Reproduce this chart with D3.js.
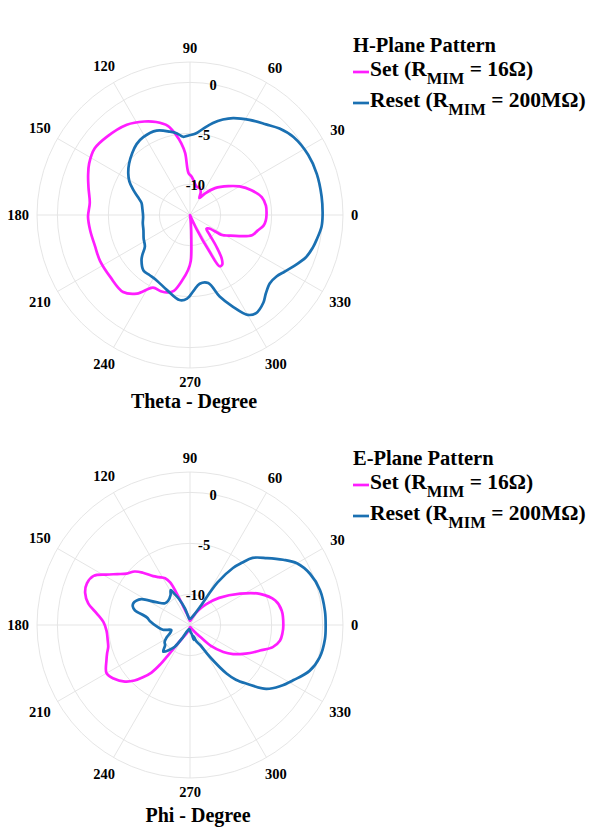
<!DOCTYPE html>
<html>
<head>
<meta charset="utf-8">
<script src="https://cdn.jsdelivr.net/npm/d3@7"></script>
<style>
  body { margin: 0; background: #fff; }
  svg text { font-family: "Liberation Serif", "Times New Roman", serif; font-weight: bold; fill: #000; }
</style>
</head>
<body>
<svg id="chart" width="592" height="828"></svg>
<script>
// angles in degrees, counter-clockwise from 0 (right); gains in dB
const thetaTicks = [0, 30, 60, 90, 120, 150, 180, 210, 240, 270, 300, 330];
const rTicks = [-10, -5, 0];
const rLimits = [-13, 2];

// H-plane, Set (R_MIM = 16 ohm)
const hSetAngle = [0, 7, 14, 22, 30, 37, 47, 55, 61, 65, 70, 77, 84, 88, 92, 94.5, 97, 100, 104, 110,
  116, 125, 137, 145, 153, 159, 165, 173, 181, 189, 198, 207, 218, 229, 236, 243, 249, 254, 258, 263,
  268, 271, 273, 276, 282, 290, 295, 298, 300, 303, 306, 310, 315, 320, 325, 328, 332, 337, 342, 347, 352, 356];
const hSetGain = [-5.5, -5.5, -5.75, -6.5, -7.4, -8.3, -9.4, -10.4, -11.1, -10.5, -10.2, -10.15, -9.6, -9.2, -8.9, -6.9, -5.9, -5.0, -4.0, -3.3,
  -2.8, -2.2, -1.8, -1.6, -1.9, -2.3, -2.7, -3.1, -3.0, -3.1, -3.2, -3.1, -3.1, -3.0, -3.7, -5.0, -5.0, -5.1, -5.4, -6.5,
  -7.6, -8.5, -10.5, -12.2, -13, -13, -11.5, -9.0, -7.2, -7.2, -7.7, -9.0, -10.3, -10.9, -10.7, -9.3, -8.7, -7.7, -6.6, -6.2, -5.7, -5.55];

// H-plane, Reset (R_MIM = 200 Mohm)
const hResetAngle = [0, 8, 18, 27, 37, 44, 50, 58, 66, 71, 76, 81, 86, 91, 95, 99, 103.5, 111.6, 121, 127,
  133, 140, 146, 151, 156, 161, 166, 173, 182, 190, 198, 207, 215, 220, 223, 230, 236, 243, 253, 263,
  268, 273, 278, 285, 290, 295, 300, 304, 310, 314, 319.5, 324.6, 329, 333.4, 340, 345, 349, 355];
const hResetGain = [0.0, 0.03, 0.07, 0.0, -0.3, -0.8, -1.4, -2.0, -2.6, -3.1, -3.7, -4.4, -5.0, -5.2, -5.3, -4.9, -4.6, -4.1, -4.1, -4.3,
  -4.7, -5.2, -5.7, -6.2, -6.9, -7.6, -8.1, -8.3, -8.4, -8.3, -8.2, -7.9, -7.6, -6.9, -6.5, -5.9, -5.9, -5.8, -5.3, -4.6,
  -4.8, -5.6, -6.2, -6.1, -4.5, -3.1, -1.7, -1.4, -1.8, -2.3, -2.7, -2.6, -2.2, -1.7, -0.9, -0.55, -0.35, -0.05];

// E-plane, Set
const eSetAngle = [0, 9, 16, 24, 32, 43, 52, 60, 70, 80, 92, 100, 106, 110, 113, 115, 118, 123, 127, 132,
  136, 141, 145, 149, 153, 158, 163, 168, 173, 178, 184, 190, 195, 199, 203, 210, 215, 221, 225, 228,
  231, 233, 234, 236, 240, 248, 260, 275, 290, 300, 307, 311, 315, 321, 326, 330, 335, 340, 345, 350, 355];
const eSetGain = [-3.85, -3.9, -4.3, -5.5, -7.2, -9.1, -10.4, -11.3, -12.1, -12.5, -12.6, -12.2, -11.8, -11.0, -9.5, -8.4, -7.8, -7.4, -7.0, -6.1,
  -5.45, -5.0, -4.3, -3.4, -2.4, -2.1, -2.25, -2.8, -3.8, -4.5, -4.8, -4.8, -4.7, -4.4, -4.1, -3.55, -3.85, -4.55, -5.3, -6.1,
  -7.0, -8.2, -9.2, -10.6, -11.5, -12.1, -12.6, -12.8, -12.7, -12.4, -12.0, -11.4, -10.1, -8.8, -7.9, -7.3, -6.5, -5.7, -4.6, -4.05, -3.9];

// E-plane, Reset
const eResetAngle = [0, 6, 15, 23, 30, 35, 41, 47, 50, 53, 57, 61, 68, 80, 95, 101, 107, 113, 117, 119, 123,
  132, 139, 146, 152, 156, 159, 162, 165, 170, 175, 182, 190, 195, 202, 208, 214, 219, 225, 230, 235,
  240, 245, 260, 275, 281, 284, 287, 291, 297, 302, 307, 310, 314, 320, 326, 332, 339, 346, 354];
const eResetGain = [0.3, 0.3, 0.2, -0.2, -0.9, -1.85, -3.0, -4.0, -5.0, -6.0, -8.0, -10.9, -11.9, -12.3, -12.4, -12.2, -11.3, -10.2, -9.5, -9.1, -9.5,
  -9.8, -9.75, -9.0, -7.6, -7.2, -7.05, -7.1, -7.4, -8.7, -9.1, -9.7, -10.3, -11.1, -10.9, -10.4, -10.0, -9.86, -9.3, -9.8, -10.4,
  -11.6, -12.3, -12.6, -12.3, -12.1, -11.5, -11.9, -11.3, -10.8, -9.3, -7.05, -6.0, -5.0, -3.25, -2.3, -1.5, -0.45, 0.1, 0.3];

const setColor = '#ff1dff';
const resetColor = '#1a70b2';
const outerR = 153;

const svg = d3.select('#chart');

function drawPolar(cfg) {
  const g = svg.append('g').attr('transform', `translate(${cfg.cx},${cfg.cy})`);

  const r = d3.scaleLinear().domain(rLimits).range([0, outerR]).clamp(true);
  // d3 radial angles run clockwise from 12 o'clock
  const a = d3.scaleLinear().domain([0, 360]).range([Math.PI / 2, Math.PI / 2 - 2 * Math.PI]);

  // grid
  g.selectAll('circle.grid')
    .data(rTicks.concat([rLimits[1]]))
    .join('circle')
    .attr('class', 'grid')
    .attr('r', d => r(d))
    .attr('fill', 'none')
    .attr('stroke', '#e2e2e2')
    .attr('stroke-width', 0.9);

  g.selectAll('line.spoke')
    .data(thetaTicks)
    .join('line')
    .attr('class', 'spoke')
    .attr('x1', 0).attr('y1', 0)
    .attr('x2', d => outerR * Math.cos(d * Math.PI / 180))
    .attr('y2', d => -outerR * Math.sin(d * Math.PI / 180))
    .attr('stroke', '#e2e2e2')
    .attr('stroke-width', 0.9);

  // curves
  const line = d3.lineRadial()
    .angle(d => a(d[0]))
    .radius(d => r(d[1]))
    .curve(d3.curveCatmullRomClosed.alpha(0.5));

  cfg.series.forEach(s => {
    g.append('path')
      .datum(d3.zip(s.angle, s.gain))
      .attr('d', line)
      .attr('fill', 'none')
      .attr('stroke', s.color)
      .attr('stroke-width', 2.7)
      .attr('stroke-linejoin', 'round');
  });

  // r tick labels along the 80 degree ray
  const rAng = 80 * Math.PI / 180;
  g.selectAll('text.rtick')
    .data(rTicks)
    .join('text')
    .attr('class', 'rtick')
    .attr('x', d => r(d) * Math.cos(rAng))
    .attr('y', d => -r(d) * Math.sin(rAng))
    .attr('dy', '0.35em')
    .attr('text-anchor', 'middle')
    .style('font-size', '14.5px')
    .text(d => d);

  // theta labels
  const tl = g.selectAll('text.ttick')
    .data(thetaTicks)
    .join('text')
    .attr('class', 'ttick')
    .attr('text-anchor', 'middle')
    .attr('dy', '0.35em')
    .style('font-size', '14.5px')
    .text(d => d);
  tl.each(function(d) {
    const w = this.getComputedTextLength();
    const t = d * Math.PI / 180;
    const rr = outerR + 8 + Math.abs(Math.cos(t)) * w / 2 + Math.abs(Math.sin(t)) * 6;
    d3.select(this).attr('x', rr * Math.cos(t)).attr('y', -rr * Math.sin(t));
  });

  // axis title
  g.append('text')
    .attr('x', cfg.titleDx)
    .attr('y', cfg.titleDy)
    .attr('text-anchor', 'middle')
    .style('font-size', '20px')
    .text(cfg.axisTitle);

  // legend
  const lg = svg.append('g').attr('transform', `translate(353,${cfg.legendY})`);
  lg.append('text')
    .attr('x', 0).attr('y', 0)
    .style('font-size', '20.5px')
    .text(cfg.legendTitle);

  cfg.series.forEach((s, i) => {
    const y = 24 + i * 31;
    lg.append('line')
      .attr('x1', 0).attr('x2', 16)
      .attr('y1', y - 4).attr('y2', y - 4)
      .attr('stroke', s.color)
      .attr('stroke-width', 2.7);
    const t = lg.append('text').attr('x', 17).attr('y', y).style('font-size', '21.5px');
    t.append('tspan').text(s.label + ' (R');
    t.append('tspan').attr('dy', 8).style('font-size', '16.5px').text('MIM');
    t.append('tspan').attr('dy', -8).text(' = ' + s.value + ')');
  });
}

drawPolar({
  cx: 190, cy: 215,
  axisTitle: 'Theta - Degree', titleDx: 4, titleDy: 193,
  legendTitle: 'H-Plane Pattern', legendY: 52,
  series: [
    { label: 'Set', value: '16Ω', angle: hSetAngle, gain: hSetGain, color: setColor },
    { label: 'Reset', value: '200MΩ', angle: hResetAngle, gain: hResetGain, color: resetColor }
  ]
});

drawPolar({
  cx: 190, cy: 625,
  axisTitle: 'Phi - Degree', titleDx: 8, titleDy: 197,
  legendTitle: 'E-Plane Pattern', legendY: 465,
  series: [
    { label: 'Set', value: '16Ω', angle: eSetAngle, gain: eSetGain, color: setColor },
    { label: 'Reset', value: '200MΩ', angle: eResetAngle, gain: eResetGain, color: resetColor }
  ]
});
</script>
</body>
</html>
